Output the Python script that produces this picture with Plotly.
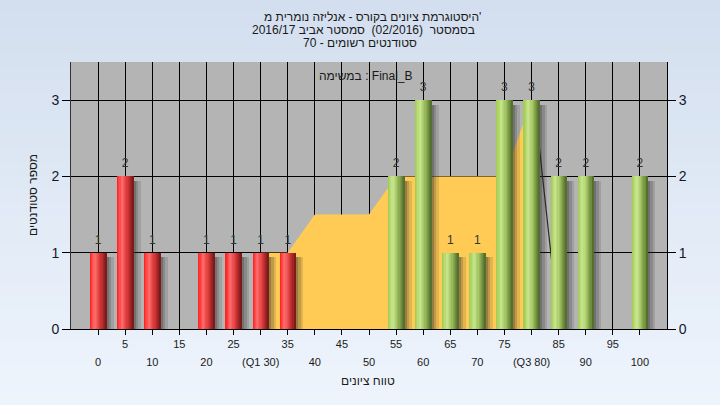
import plotly.graph_objects as go

# ---------------- data ----------------
grades = [0, 5, 10, 15, 20, 25, 30, 35, 40, 45, 50, 55, 60, 65, 70, 75, 80, 85, 90, 95, 100]
tick_labels = ["0", "5", "10", "15", "20", "25", "(Q1 30)", "35", "40", "45", "50", "55", "60",
               "65", "70", "75", "(Q3 80)", "85", "90", "95", "100"]
fail_grades = [0, 5, 10, 15, 20, 25, 30, 35, 40, 45, 50]
fail_counts = [1, 2, 1, 0, 1, 1, 1, 1, 0, 0, 0]
pass_grades = [55, 60, 65, 70, 75, 80, 85, 90, 95, 100]
pass_counts = [2, 3, 1, 1, 3, 3, 2, 2, 0, 2]
iqr_grades = [30, 35, 40, 50, 55, 75, 80]
iqr_values = [1, 1, 1.5, 1.5, 2, 2, 3]
trend_grades = [80.5, 85]
trend_values = [3.0, 0.05]
y_ticks = [0, 1, 2, 3]

title_1 = "היסטוגרמת ציונים בקורס - אנליזה נומרית מ'"
title_2 = "בסמסטר\u00a0\u00a0(02/2016)\u00a0\u00a0סמסטר אביב 2016/17"
title_3 = "סטודנטים רשומים - 70"
y_title = "מספר סטודנטים"
x_title = "טווח ציונים"
task_label = "במשימה : Final_B"

# ---------------- style ----------------
FONT = "Liberation Sans, Arial, DejaVu Sans, sans-serif"
W, H = 720, 405
ML, MR, MT, MB = 71, 53, 62, 76
PW, PH = W - ML - MR, H - MT - MB
BAR_W = 3.0
N_SLICES = 14

red_stops = [(0.0, (255, 28, 28)), (0.3, (255, 112, 112)), (0.55, (228, 64, 64)),
             (0.8, (170, 38, 38)), (1.0, (118, 24, 24))]
green_stops = [(0.0, (158, 202, 78)), (0.3, (202, 230, 145)), (0.55, (163, 197, 98)),
               (0.8, (114, 145, 64)), (1.0, (80, 104, 44))]


def grad(stops, t):
    for (p0, c0), (p1, c1) in zip(stops[:-1], stops[1:]):
        if p0 <= t <= p1:
            f = (t - p0) / (p1 - p0)
            return "rgb(%d,%d,%d)" % tuple(round(a + (b - a) * f) for a, b in zip(c0, c1))
    return "rgb(%d,%d,%d)" % stops[-1][1]


fig = go.Figure()

# interquartile area (main subplot -> drawn below the bars of the overlay subplot)
fig.add_trace(go.Scatter(x=iqr_grades, y=iqr_values, mode="lines", fill="tozeroy",
                         fillcolor="#FFCB55", line=dict(width=0, color="#FFCB55"),
                         hoverinfo="skip", showlegend=False))
fig.add_trace(go.Scatter(x=trend_grades, y=trend_values, mode="lines",
                         line=dict(color="#2a2a2a", width=1.2), hoverinfo="skip", showlegend=False))

# shadows
for xs, ys in ((fail_grades, fail_counts), (pass_grades, pass_counts)):
    sh = [max(v - 0.06, 0) if v > 0 else 0 for v in ys]
    for alpha, dx in ((0.48, 0.0), (0.3, 0.45), (0.14, 0.9)):
        fig.add_trace(go.Bar(x=xs, y=sh, width=0.45, offset=BAR_W / 2 + dx, xaxis="x2", yaxis="y2",
                             marker=dict(color="rgba(40,40,40,%.2f)" % alpha, line=dict(width=0)),
                             hoverinfo="skip", showlegend=False))

# cylinder-looking bars (overlapping slices)
for xs, ys, stops in ((fail_grades, fail_counts, red_stops), (pass_grades, pass_counts, green_stops)):
    dw = BAR_W / N_SLICES
    for j in range(N_SLICES):
        t = (j + 0.5) / N_SLICES
        fig.add_trace(go.Bar(x=xs, y=ys, width=BAR_W - j * dw, offset=-BAR_W / 2 + j * dw,
                             xaxis="x2", yaxis="y2",
                             marker=dict(color=grad(stops, t), line=dict(width=0)),
                             hoverinfo="skip", showlegend=False))

# value labels
lab_x = [g for g, c in zip(fail_grades + pass_grades, fail_counts + pass_counts) if c > 0]
lab_y = [c for c in fail_counts + pass_counts if c > 0]
fig.add_trace(go.Scatter(x=lab_x, y=lab_y, xaxis="x2", yaxis="y2", mode="markers+text",
                         marker=dict(size=8, color="rgba(0,0,0,0)"),
                         text=[str(v) for v in lab_y], textposition="top center",
                         textfont=dict(family=FONT, size=12, color="#333333"),
                         cliponaxis=False, hoverinfo="skip", showlegend=False))

# background gradient + plot area
shapes = []
px0, px1 = -ML / PW, 1 + MR / PW
py0, py1 = -MB / PH, 1 + MT / PH
n = 30
top, bot = (211, 223, 239), (238, 244, 252)
for i in range(n):
    f = i / (n - 1)
    c = tuple(round(b + (a - b) * f) for a, b in zip(top, bot))
    y0 = py0 + (py1 - py0) * i / n
    y1 = py0 + (py1 - py0) * (i + 1) / n + 0.002
    shapes.append(dict(type="rect", xref="paper", yref="paper", x0=px0, x1=px1, y0=y0, y1=y1,
                       fillcolor="rgb(%d,%d,%d)" % c, line=dict(width=0), layer="below"))
shapes.append(dict(type="rect", xref="paper", yref="paper", x0=0, x1=1, y0=0, y1=1,
                   fillcolor="#B4B4B4", line=dict(width=0), layer="below"))

odd_text = [lab if i % 2 == 1 else "" for i, lab in enumerate(tick_labels)]
even_vals = [g for i, g in enumerate(grades) if i % 2 == 0]
even_text = [lab for i, lab in enumerate(tick_labels) if i % 2 == 0]

tf = dict(family=FONT, size=11, color="#1a1a1a")
yf = dict(family=FONT, size=14, color="#14182a")


def px_x(px):
    return (px - ML) / PW


def px_y(py):
    return (H - MB - py) / PH


annos = []
for txt, xc, ypx in ((title_1, 372, 17), (title_2, 363, 30), (title_3, 360, 43)):
    annos.append(dict(text=txt, xref="paper", yref="paper", x=px_x(xc), y=px_y(ypx),
                      showarrow=False, xanchor="center", yanchor="middle",
                      font=dict(family=FONT, size=12, color="#1a1a1a")))
annos.append(dict(text=task_label, xref="paper", yref="paper", x=px_x(366), y=px_y(76),
                  showarrow=False, xanchor="center", yanchor="middle",
                  font=dict(family=FONT, size=12, color="#1a1a1a")))
annos.append(dict(text=y_title, xref="paper", yref="paper", x=px_x(33), y=px_y(195),
                  showarrow=False, textangle=-90, xanchor="center", yanchor="middle",
                  font=dict(family=FONT, size=12, color="#1a1a1a")))
annos.append(dict(text=x_title, xref="paper", yref="paper", x=px_x(368), y=px_y(381),
                  showarrow=False, xanchor="center", yanchor="middle",
                  font=dict(family=FONT, size=12, color="#1a1a1a")))

fig.update_layout(
    template="none",
    width=W, height=H, autosize=False,
    margin=dict(l=ML, r=MR, t=MT, b=MB, pad=0, autoexpand=False),
    paper_bgcolor="#E2EAF5", plot_bgcolor="#B4B4B4",
    barmode="overlay", bargap=0, showlegend=False,
    shapes=shapes, annotations=annos,
    xaxis=dict(range=[-5, 105], tickmode="array", tickvals=grades, ticktext=odd_text,
               ticks="outside", ticklen=5, tickcolor="black", tickwidth=1,
               showgrid=True, gridcolor="black", gridwidth=1, zeroline=False,
               showline=True, linecolor="black", linewidth=1, tickfont=tf,
               ticklabelstandoff=0, automargin=False, fixedrange=True),
    xaxis2=dict(range=[-5, 105], overlaying="x", side="bottom", anchor="y2", tickmode="array",
                tickvals=even_vals, ticktext=even_text, ticks="", showgrid=False,
                zeroline=False, showline=False, tickfont=tf, ticklabelstandoff=25,
                automargin=False, fixedrange=True),
    yaxis=dict(range=[0, 3.5], tickmode="array", tickvals=y_ticks, ticks="outside", ticklen=8,
               tickcolor="black", showgrid=True, gridcolor="black", gridwidth=1, zeroline=False,
               showline=True, linecolor="#333333", linewidth=1, tickfont=yf,
               automargin=False, fixedrange=True),
    yaxis2=dict(range=[0, 3.5], overlaying="y", side="right", anchor="x2", tickmode="array",
                tickvals=y_ticks, ticks="outside", ticklen=8, tickcolor="black", showgrid=False,
                zeroline=False, showline=True, linecolor="black", linewidth=1, tickfont=yf,
                automargin=False, fixedrange=True),
)

fig.write_html("out.html", config={"displayModeBar": False},
               post_script="document.body.style.margin='0';")
